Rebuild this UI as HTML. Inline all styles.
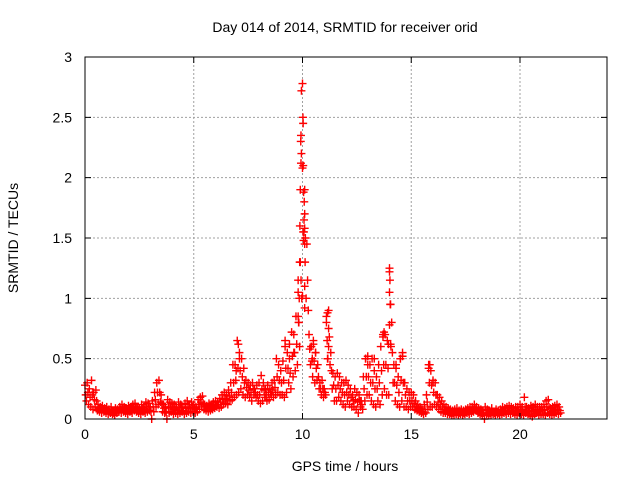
<!DOCTYPE html>
<html><head><meta charset="utf-8"><style>
html,body{margin:0;padding:0;background:#fff;}
svg{display:block;font-family:"Liberation Sans",sans-serif;}
</style></head><body>
<svg id="chart" width="640" height="480" viewBox="0 0 640 480">
<rect x="0" y="0" width="640" height="480" fill="#fff"/>
<text x="345" y="32" text-anchor="middle" font-size="14" fill="#000">Day 014 of 2014, SRMTID for receiver orid</text>
<text x="345" y="471" text-anchor="middle" font-size="14" fill="#000">GPS time / hours</text>
<text transform="translate(18,238) rotate(-90)" text-anchor="middle" font-size="14" fill="#000">SRMTID / TECUs</text>
<g id="grid"></g>
<g id="marks"></g>
<g id="axes"></g>
</svg>
<script>
const xTicks = [0, 5, 10, 15, 20];
const yTicks = [0, 0.5, 1, 1.5, 2, 2.5, 3];
const yTickLabels = ["0", "0.5", "1", "1.5", "2", "2.5", "3"];
const startHour = 0;
const stepHour = 0.1;
const upperVals = [
0.28,0.3,0.25,0.32,0.22,0.24,0.12,0.1,0.11,0.09,
0.1,0.08,0.1,0.07,0.09,0.08,0.1,0.12,0.1,0.09,
0.11,0.1,0.12,0.13,0.1,0.09,0.12,0.1,0.14,0.13,
0.1,0.15,0.22,0.3,0.32,0.2,0.12,0.1,0.16,0.14,
0.13,0.12,0.1,0.14,0.12,0.1,0.13,0.15,0.12,0.14,
0.12,0.1,0.16,0.18,0.19,0.12,0.11,0.13,0.12,0.14,
0.15,0.14,0.17,0.2,0.22,0.2,0.24,0.3,0.45,0.45,
0.65,0.55,0.5,0.42,0.32,0.3,0.28,0.3,0.25,0.28,
0.3,0.36,0.3,0.25,0.28,0.25,0.3,0.32,0.5,0.45,
0.4,0.48,0.65,0.55,0.5,0.72,0.7,0.85,1.05,1.3,
2.78,1.9,1.45,0.7,0.6,0.65,0.55,0.45,0.3,0.32,
0.25,0.85,0.9,0.55,0.38,0.35,0.38,0.35,0.3,0.3,
0.32,0.28,0.25,0.2,0.25,0.22,0.2,0.15,0.35,0.5,
0.52,0.45,0.5,0.4,0.35,0.45,0.6,0.7,0.7,0.65,
1.25,0.8,0.45,0.42,0.35,0.5,0.55,0.3,0.25,0.22,
0.22,0.2,0.15,0.12,0.1,0.08,0.12,0.2,0.45,0.4,
0.32,0.3,0.2,0.18,0.15,0.12,0.1,0.09,0.08,0.07,
0.08,0.09,0.07,0.08,0.07,0.08,0.09,0.1,0.1,0.12,
0.1,0.09,0.08,0.07,0.1,0.08,0.07,0.09,0.06,0.08,
0.07,0.08,0.1,0.09,0.1,0.11,0.1,0.09,0.1,0.1,
0.12,0.1,0.18,0.1,0.09,0.11,0.1,0.12,0.1,0.1,
0.1,0.12,0.15,0.16,0.09,0.1,0.11,0.12,0.1];
const midVals = [
0.2,0.22,0.18,0.2,0.16,0.15,0.09,0.08,0.08,0.07,
0.07,0.06,0.07,0.05,0.07,0.07,0.08,0.09,0.08,0.07,
0.08,0.08,0.09,0.1,0.08,0.07,0.09,0.08,0.1,0.1,
0.06,0.1,0.16,0.22,0.22,0.13,0.09,0.06,0.1,0.1,
0.09,0.08,0.07,0.1,0.09,0.07,0.09,0.1,0.09,0.1,
0.09,0.08,0.12,0.14,0.13,0.1,0.09,0.1,0.1,0.11,
0.12,0.12,0.14,0.16,0.17,0.16,0.19,0.22,0.3,0.32,
0.42,0.4,0.35,0.3,0.26,0.24,0.22,0.25,0.22,0.2,
0.2,0.25,0.24,0.2,0.22,0.22,0.24,0.26,0.35,0.32,
0.3,0.32,0.42,0.42,0.38,0.52,0.55,0.62,0.8,1.15,
2.1,1.5,1.15,0.58,0.48,0.48,0.42,0.35,0.25,0.25,
0.22,0.65,0.68,0.4,0.28,0.25,0.28,0.25,0.22,0.2,
0.22,0.2,0.18,0.15,0.16,0.14,0.15,0.12,0.25,0.35,
0.35,0.3,0.3,0.25,0.25,0.3,0.4,0.45,0.45,0.42,
0.95,0.55,0.3,0.28,0.22,0.32,0.3,0.2,0.15,0.15,
0.15,0.13,0.1,0.09,0.08,0.06,0.08,0.14,0.3,0.28,
0.22,0.2,0.14,0.12,0.1,0.08,0.07,0.06,0.05,0.05,
0.06,0.06,0.05,0.06,0.05,0.06,0.06,0.07,0.08,0.09,
0.07,0.06,0.05,0.05,0.07,0.05,0.05,0.06,0.05,0.06,
0.05,0.06,0.07,0.06,0.07,0.07,0.07,0.06,0.06,0.07,
0.08,0.06,0.1,0.07,0.06,0.06,0.07,0.08,0.06,0.07,
0.07,0.08,0.1,0.1,0.06,0.07,0.08,0.08,0.07];
const lowerVals = [
0.15,0.12,0.1,0.08,0.1,0.07,0.06,0.05,0.06,0.05,
0.04,0.05,0.04,0.03,0.05,0.06,0.05,0.06,0.05,0.04,
0.06,0.05,0.07,0.06,0.05,0.04,0.06,0.05,0.06,0.07,
0.0,0.06,0.1,0.12,0.14,0.06,0.05,0.0,0.05,0.06,
0.04,0.05,0.04,0.05,0.06,0.04,0.05,0.06,0.05,0.06,
0.05,0.06,0.08,0.1,0.08,0.07,0.06,0.07,0.08,0.09,
0.1,0.09,0.1,0.12,0.13,0.12,0.15,0.16,0.18,0.2,
0.22,0.25,0.2,0.18,0.2,0.18,0.15,0.2,0.18,0.15,
0.13,0.15,0.18,0.15,0.16,0.2,0.18,0.2,0.22,0.2,
0.2,0.18,0.22,0.3,0.25,0.35,0.4,0.45,0.6,1.0,
1.55,1.0,0.9,0.45,0.35,0.3,0.32,0.25,0.2,0.18,
0.2,0.5,0.45,0.25,0.15,0.15,0.18,0.15,0.12,0.1,
0.15,0.12,0.1,0.1,0.08,0.05,0.1,0.08,0.15,0.2,
0.2,0.15,0.12,0.1,0.15,0.12,0.2,0.25,0.2,0.2,
0.6,0.3,0.15,0.12,0.1,0.15,0.1,0.1,0.08,0.1,
0.1,0.08,0.07,0.06,0.05,0.04,0.05,0.08,0.1,0.1,
0.12,0.1,0.08,0.06,0.05,0.05,0.04,0.04,0.03,0.03,
0.04,0.03,0.04,0.03,0.04,0.05,0.04,0.05,0.06,0.07,
0.05,0.04,0.03,0.0,0.04,0.03,0.03,0.04,0.03,0.04,
0.03,0.04,0.05,0.04,0.05,0.04,0.05,0.04,0.03,0.05,
0.04,0.03,0.05,0.04,0.03,0.02,0.04,0.05,0.03,0.04,
0.04,0.03,0.05,0.04,0.03,0.04,0.05,0.04,0.05];
const spikeTimes = [9.95,9.93,9.92,9.95,9.93,10.0,10.02,10.03,9.9,10.05,10.08,10.1,10.07,9.88,10.03,10.1,10.05,10.1,9.87,10.12,9.8,10.1,9.85,10.0,9.8,9.82,10.1,11.1,11.15,11.2,11.2,11.15,14.0,14.02,14.0,14.05,14.0,13.95,14.05,13.75,13.7,7.05,10.4,10.5,14.6,15.85,6.95,7.1,9.2,9.4,9.6,10.45,10.6,12.9,13.0,13.3,14.3,14.5,15.8,16.0];
const spikeVals = [2.72,2.35,2.3,2.2,2.12,2.08,2.5,2.45,1.9,1.88,1.8,1.7,1.65,1.6,1.55,1.58,1.48,1.45,1.3,1.3,1.15,1.1,1.0,1.02,0.85,0.8,0.92,0.8,0.88,0.75,0.6,0.5,1.22,1.15,1.05,0.95,0.78,0.62,0.62,0.72,0.68,0.62,0.6,0.62,0.52,0.45,0.4,0.5,0.6,0.62,0.55,0.5,0.55,0.5,0.45,0.5,0.45,0.5,0.42,0.3];

const NS = "http://www.w3.org/2000/svg";
const L = 85, R = 607, T = 57, B = 419;
const xMin = 0, xMax = 24, yMin = 0, yMax = 3;
function xs(v){ return L + (v - xMin) / (xMax - xMin) * (R - L); }
function ys(v){ return B - (v - yMin) / (yMax - yMin) * (B - T); }
function mk(tag, attrs, parent){ const e = document.createElementNS(NS, tag); for (const k in attrs) e.setAttribute(k, attrs[k]); parent.appendChild(e); return e; }

const grid = document.getElementById('grid');
const axes = document.getElementById('axes');
const marks = document.getElementById('marks');

xTicks.forEach(function(t){
  const x = xs(t);
  if (t !== xMin) {
    const g = mk('line', {x1:x, y1:T, x2:x, y2:B, stroke:'#a0a0a0', 'stroke-dasharray':'2,2', 'stroke-width':1}, grid);
    
    
  }
  const tk = mk('path', {d:'M'+x+' '+B+'v-6M'+x+' '+T+'v6', stroke:'#000', 'stroke-width':1}, axes);
  
  
  const lb = mk('text', {x:x, y:B+20, 'text-anchor':'middle', 'font-size':14}, axes);
  lb.textContent = String(t);
  
  
});
yTicks.forEach(function(t, i){
  const y = ys(t);
  if (t !== yMin && t !== yMax) {
    const g = mk('line', {x1:L, y1:y, x2:R, y2:y, stroke:'#a0a0a0', 'stroke-dasharray':'2,2', 'stroke-width':1}, grid);
    
    
  }
  const tk = mk('path', {d:'M'+L+' '+y+'h6M'+R+' '+y+'h-6', stroke:'#000', 'stroke-width':1}, axes);
  
  
  const lb = mk('text', {x:L-13, y:y+5, 'text-anchor':'end', 'font-size':14}, axes);
  lb.textContent = yTickLabels[i];
  
  
});
const frame = mk('rect', {x:L, y:T, width:R-L, height:B-T, fill:'none', stroke:'#000', 'stroke-width':1}, axes);



function plus(t, v){
  const x = xs(t), y = ys(v);
  const p = mk('path', {d:'M'+(x-4)+' '+y+'h8M'+x+' '+(y-4)+'v8', stroke:'#ff0000', 'stroke-width':1.4, fill:'none'}, marks);
  
  
}
upperVals.forEach(function(v, i){ plus(startHour + i*stepHour, v); });
midVals.forEach(function(v, i){ plus(startHour + i*stepHour + 0.033, v); });
lowerVals.forEach(function(v, i){ plus(startHour + i*stepHour + 0.066, v); });
spikeTimes.forEach(function(t, i){ plus(t, spikeVals[i]); });
</script>
</body></html>
